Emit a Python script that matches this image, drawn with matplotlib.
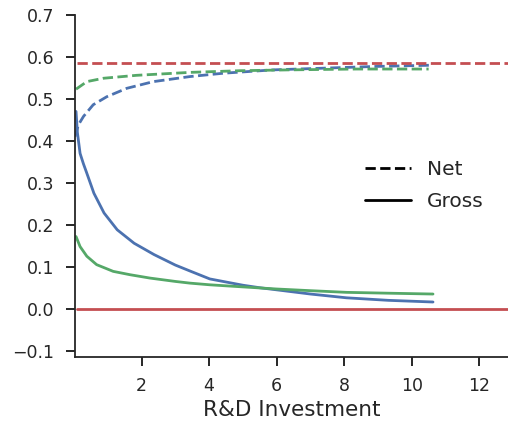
import matplotlib
matplotlib.use("Agg")
import matplotlib.pyplot as plt
import seaborn as sns

sns.set_style("ticks")
plt.rcParams['font.family'] = ['DejaVu Sans']

blue = "#4C72B0"
green = "#55A868"
red = "#C44E52"

# values
x_gross_blue = [0.06, 0.1, 0.18, 0.28, 0.37, 0.59, 0.89, 1.28, 1.78, 2.37, 3.0, 3.43,
                4.02, 5.0, 5.5, 6.0, 7.0, 8.07, 9.3, 10.63]
gross_blue = [0.47, 0.42, 0.37, 0.345, 0.325, 0.275, 0.228, 0.188, 0.156, 0.129, 0.104, 0.09,
              0.071, 0.056, 0.05, 0.045, 0.035, 0.026, 0.02, 0.016]

x_gross_green = [0.06, 0.18, 0.38, 0.67, 1.16, 1.66, 2.25, 3.0, 3.43, 4.02, 5.0, 6.0,
                 7.0, 8.07, 9.3, 10.63]
gross_green = [0.172, 0.148, 0.125, 0.105, 0.089, 0.081, 0.073, 0.065, 0.061, 0.057, 0.052, 0.047,
               0.043, 0.039, 0.037, 0.035]

x_net_blue = [0.03, 0.13, 0.28, 0.57, 0.97, 1.56, 2.35, 3.43, 4.42, 5.9, 7.38, 8.86, 10.53]
net_blue = [0.41, 0.438, 0.458, 0.486, 0.505, 0.525, 0.541, 0.553, 0.561, 0.569, 0.573, 0.577, 0.58]

x_net_green = [0.06, 0.38, 0.87, 1.85, 3.43, 4.91, 6.39, 8.36, 10.5]
net_green = [0.523, 0.541, 0.549, 0.556, 0.563, 0.567, 0.569, 0.571, 0.571]

x_red = [0.1, 13.5]
net_red = [0.585, 0.585]
gross_red = [0.0, 0.0]

fig = plt.figure(figsize=(5.08, 4.25), dpi=100)
ax = fig.add_axes([0.147, 0.16, 0.853, 0.805])

lw = 2
ax.plot(x_net_blue, net_blue, "--", color=blue, lw=lw)
ax.plot(x_net_green, net_green, "--", color=green, lw=lw)
ax.plot(x_red, net_red, "--", color=red, lw=lw)
ax.plot(x_gross_blue, gross_blue, "-", color=blue, lw=lw, solid_joinstyle="round")
ax.plot(x_gross_green, gross_green, "-", color=green, lw=lw, solid_joinstyle="round")
ax.plot(x_red, gross_red, "-", color=red, lw=lw)

h1, = ax.plot([], [], "--", color="black", lw=lw, label="Net")
h2, = ax.plot([], [], "-", color="black", lw=lw, label="Gross")
ax.legend(handles=[h1, h2], loc="center left", bbox_to_anchor=(0.628, 0.5),
          frameon=False, fontsize=14.5, handlelength=2.3, labelspacing=0.65)

ax.set_xlim(0.02, 12.85)
ax.set_ylim(-0.115, 0.7)
ax.set_xticks([2, 4, 6, 8, 10, 12])
ax.set_yticks([-0.1, 0.0, 0.1, 0.2, 0.3, 0.4, 0.5, 0.6, 0.7])
ax.tick_params(labelsize=12.5, length=6.7, width=1.4, pad=8)
ax.set_xlabel("R&D Investment", fontsize=15.5, labelpad=3)
for s in ["left", "bottom"]:
    ax.spines[s].set_linewidth(1.3)
sns.despine(ax=ax)

fig.savefig("out.png", dpi=100)
